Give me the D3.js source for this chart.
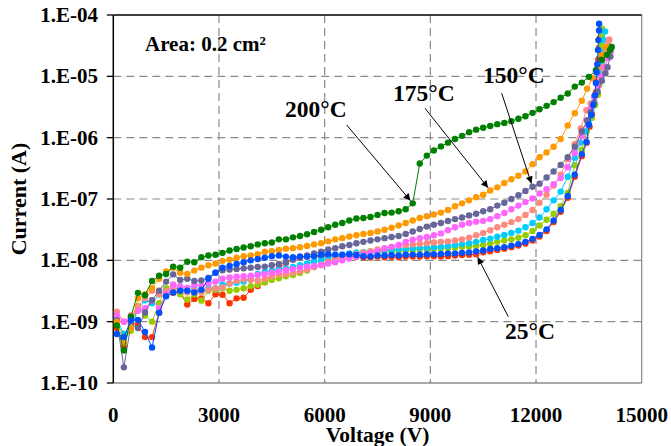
<!DOCTYPE html>
<html>
<head>
<meta charset="utf-8">
<title>Leakage current vs voltage</title>
<style>
  body { margin: 0; background: #fff; }
  svg { display: block; font-family: "Liberation Serif", "Times New Roman", serif; font-weight: bold; }
</style>
</head>
<body>
<svg class="canvas"></svg>
<script src="https://cdn.jsdelivr.net/npm/d3@7"></script>
<script>
// ---------- data ----------
// common voltage grid (V) for the main part of each sweep
const volts = [100, 300, 500, 700, 900, 1100, 1300, 1500, 1700, 1900, 2100, 2300, 2500, 2700, 2900,
  3100, 3300, 3500, 3700, 3900, 4100, 4300, 4500, 4700, 4900, 5100, 5300, 5500, 5700, 5900,
  6100, 6300, 6500, 6700, 6900, 7100, 7300, 7500, 7700, 7900, 8100, 8300, 8500, 8700, 8900,
  9100, 9300, 9500, 9700, 9900, 10100, 10300, 10500, 10700, 10900, 11100, 11300, 11500, 11700, 11900,
  12100, 12300, 12500, 12700, 12900, 13100];

// currents (A) on that grid, one array per curve
const redI = [7.9e-10, 3.9e-10, 1.0e-9, 8.9e-10, 5.6e-10, 5.6e-10, 1.4e-9, 3.0e-9, 2.95e-9, 2.9e-9, 1.9e-9, 2.35e-9, 2.4e-9, 2.0e-9, 2.8e-9,
  2.75e-9, 2.0e-9, 2.4e-9, 2.45e-9, 3.3e-9, 3.8e-9, 4.4e-9, 5.6e-9, 7.4e-9, 9.1e-9, 1.07e-8, 1.12e-8, 1.15e-8, 1.17e-8, 1.16e-8,
  1.2e-8, 1.17e-8, 1.15e-8, 1.17e-8, 1.14e-8, 1.12e-8, 1.11e-8, 1.15e-8, 1.12e-8, 1.14e-8, 1.12e-8, 1.15e-8, 1.16e-8, 1.15e-8, 1.17e-8,
  1.17e-8, 1.16e-8, 1.17e-8, 1.2e-8, 1.22e-8, 1.23e-8, 1.26e-8, 1.35e-8, 1.41e-8, 1.48e-8, 1.55e-8, 1.64e-8, 1.74e-8, 1.88e-8, 2.1e-8,
  2.45e-8, 3.0e-8, 4.2e-8, 6.2e-8, 1.05e-7, 2.3e-7];
const blueI = [6.3e-10, 5.6e-10, 1.05e-9, 1.07e-9, 6.8e-10, 3.8e-10, 1.4e-9, 2.6e-9, 3.0e-9, 3.2e-9, 3.2e-9, 3.0e-9, 3.3e-9, 5.0e-9, 6.3e-9,
  7.6e-9, 8.1e-9, 8.7e-9, 9.3e-9, 1.0e-8, 1.05e-8, 1.1e-8, 1.17e-8, 1.2e-8, 1.15e-8, 1.12e-8, 1.16e-8, 1.15e-8, 1.17e-8, 1.23e-8,
  1.26e-8, 1.24e-8, 1.23e-8, 1.26e-8, 1.22e-8, 1.17e-8, 1.16e-8, 1.2e-8, 1.2e-8, 1.22e-8, 1.2e-8, 1.23e-8, 1.24e-8, 1.23e-8, 1.26e-8,
  1.26e-8, 1.27e-8, 1.29e-8, 1.3e-8, 1.32e-8, 1.35e-8, 1.4e-8, 1.45e-8, 1.53e-8, 1.58e-8, 1.64e-8, 1.74e-8, 1.84e-8, 2.0e-8, 2.24e-8,
  2.6e-8, 3.2e-8, 4.47e-8, 6.6e-8, 1.12e-7, 2.5e-7];
const limeI = [8.9e-10, 6.3e-10, 7.1e-10, 1.78e-9, 1.26e-9, 1.0e-9, 2.0e-9, 3.5e-9, 4.0e-9, 2.8e-9, 2.3e-9, 2.8e-9, 2.2e-9, 3.2e-9, 3.3e-9,
  3.5e-9, 3.2e-9, 3.3e-9, 3.5e-9, 3.8e-9, 4.0e-9, 4.4e-9, 4.8e-9, 5.1e-9, 5.5e-9, 5.75e-9, 6.2e-9, 6.8e-9, 7.8e-9, 8.7e-9,
  9.8e-9, 1.07e-8, 1.17e-8, 1.26e-8, 1.32e-8, 1.35e-8, 1.38e-8, 1.38e-8, 1.4e-8, 1.41e-8, 1.43e-8, 1.45e-8, 1.48e-8, 1.51e-8, 1.55e-8,
  1.57e-8, 1.58e-8, 1.6e-8, 1.62e-8, 1.66e-8, 1.68e-8, 1.72e-8, 1.78e-8, 1.86e-8, 2.0e-8, 2.1e-8, 2.2e-8, 2.34e-8, 2.57e-8, 3.0e-8,
  3.7e-8, 4.6e-8, 5.75e-8, 7.6e-8, 1.26e-7, 3.55e-7];
const cyanI = [1.12e-9, 6.3e-10, 7.9e-10, 1.58e-9, 2.24e-9, 2.0e-9, 2.8e-9, 3.2e-9, 3.5e-9, 3.6e-9, 3.2e-9, 3.4e-9, 3.2e-9, 3.5e-9, 3.5e-9,
  4.0e-9, 4.2e-9, 4.3e-9, 4.5e-9, 5.0e-9, 6.0e-9, 6.5e-9, 6.8e-9, 7.1e-9, 7.4e-9, 7.8e-9, 8.3e-9, 8.9e-9, 9.5e-9, 1.02e-8,
  1.1e-8, 1.17e-8, 1.23e-8, 1.29e-8, 1.33e-8, 1.36e-8, 1.4e-8, 1.43e-8, 1.46e-8, 1.5e-8, 1.53e-8, 1.55e-8, 1.58e-8, 1.6e-8, 1.62e-8,
  1.64e-8, 1.66e-8, 1.72e-8, 1.78e-8, 1.84e-8, 1.9e-8, 2.0e-8, 2.14e-8, 2.26e-8, 2.43e-8, 2.6e-8, 2.8e-8, 3.05e-8, 3.47e-8, 4.07e-8,
  5.0e-8, 6.8e-8, 9.5e-8, 1.32e-7, 2.3e-7, 4.7e-7];
const salmonI = [1.45e-9, 1.0e-9, 1.26e-9, 1.78e-9, 2.4e-9, 3.2e-9, 2.8e-9, 3.2e-9, 3.5e-9, 3.3e-9, 3.0e-9, 3.2e-9, 3.0e-9, 3.3e-9, 3.5e-9,
  3.6e-9, 4.2e-9, 4.6e-9, 4.9e-9, 4.8e-9, 4.7e-9, 5.0e-9, 5.5e-9, 5.9e-9, 6.0e-9, 6.3e-9, 6.6e-9, 7.1e-9, 7.8e-9, 8.3e-9,
  9.5e-9, 1.05e-8, 1.12e-8, 1.2e-8, 1.26e-8, 1.35e-8, 1.41e-8, 1.51e-8, 1.58e-8, 1.66e-8, 1.74e-8, 1.78e-8, 1.82e-8, 1.86e-8, 1.9e-8,
  1.95e-8, 2.0e-8, 2.04e-8, 2.1e-8, 2.2e-8, 2.34e-8, 2.57e-8, 2.8e-8, 3.1e-8, 3.47e-8, 3.8e-8, 4.2e-8, 4.7e-8, 5.5e-8, 6.6e-8,
  8.7e-8, 1.17e-7, 1.66e-7, 2.5e-7, 4.47e-7, 7.9e-7];
const magentaI = [1.26e-9, 1.0e-9, 1.12e-9, 1.51e-9, 1.66e-9, 2.24e-9, 1.66e-9, 2.8e-9, 4.0e-9, 3.8e-9, 3.55e-9, 4.0e-9, 3.8e-9, 4.2e-9, 4.5e-9,
  5.0e-9, 5.25e-9, 5.4e-9, 5.5e-9, 5.6e-9, 5.75e-9, 6.0e-9, 6.3e-9, 6.6e-9, 6.9e-9, 7.2e-9, 7.6e-9, 7.9e-9, 8.1e-9, 8.5e-9,
  8.9e-9, 9.3e-9, 1.0e-8, 1.07e-8, 1.15e-8, 1.23e-8, 1.32e-8, 1.41e-8, 1.55e-8, 1.66e-8, 1.78e-8, 2.0e-8, 2.16e-8, 2.3e-8, 2.4e-8,
  2.57e-8, 2.75e-8, 3.1e-8, 3.47e-8, 3.8e-8, 4.07e-8, 4.27e-8, 4.4e-8, 4.7e-8, 5.25e-8, 5.9e-8, 6.8e-8, 7.8e-8, 8.9e-8, 1.02e-7,
  1.23e-7, 1.45e-7, 1.74e-7, 2.2e-7, 3.3e-7, 5.6e-7];
const slateI = [1.05e-9, 1.8e-10, 8.9e-10, 7.9e-10, 1.41e-9, 2.24e-9, 3.2e-9, 4.5e-9, 5.9e-9, 4.8e-9, 5.0e-9, 4.6e-9, 4.7e-9, 5.2e-9, 6.3e-9,
  6.9e-9, 7.1e-9, 7.2e-9, 7.4e-9, 7.6e-9, 7.8e-9, 7.9e-9, 8.3e-9, 8.7e-9, 9.3e-9, 1.02e-8, 1.12e-8, 1.2e-8, 1.29e-8, 1.38e-8,
  1.51e-8, 1.58e-8, 1.7e-8, 1.78e-8, 1.9e-8, 2.0e-8, 2.1e-8, 2.2e-8, 2.3e-8, 2.4e-8, 2.5e-8, 2.7e-8, 2.95e-8, 3.24e-8, 3.55e-8,
  3.8e-8, 4.07e-8, 4.37e-8, 4.7e-8, 5.0e-8, 5.4e-8, 5.75e-8, 6.3e-8, 6.8e-8, 7.8e-8, 8.7e-8, 1.0e-7, 1.15e-7, 1.35e-7, 1.58e-7,
  1.78e-7, 2.24e-7, 2.8e-7, 3.6e-7, 4.8e-7, 7.1e-7];
const orangeI = [1.0e-9, 4.5e-10, 7.9e-10, 2.4e-9, 2.8e-9, 3.5e-9, 5.0e-9, 6.6e-9, 7.6e-9, 6.3e-9, 6.0e-9, 6.8e-9, 7.6e-9, 8.3e-9, 8.9e-9,
  9.8e-9, 1.02e-8, 1.1e-8, 1.17e-8, 1.2e-8, 1.26e-8, 1.38e-8, 1.41e-8, 1.48e-8, 1.55e-8, 1.58e-8, 1.64e-8, 1.72e-8, 1.82e-8, 1.9e-8,
  2.04e-8, 2.2e-8, 2.3e-8, 2.45e-8, 2.57e-8, 2.7e-8, 2.8e-8, 2.95e-8, 3.16e-8, 3.4e-8, 3.7e-8, 4.07e-8, 4.47e-8, 4.9e-8, 5.25e-8,
  5.6e-8, 6.0e-8, 6.6e-8, 7.6e-8, 8.5e-8, 9.5e-8, 1.07e-7, 1.17e-7, 1.38e-7, 1.55e-7, 1.82e-7, 2.1e-7, 2.4e-7, 2.8e-7, 3.7e-7,
  4.8e-7, 5.75e-7, 7.1e-7, 9.5e-7, 1.58e-6, 2.5e-6];
const greenI = [8.7e-10, 3.4e-10, 1.2e-9, 2.95e-9, 2.7e-9, 4.6e-9, 5.6e-9, 6.0e-9, 7.9e-9, 7.6e-9, 9.5e-9, 9.3e-9, 1.12e-8, 1.2e-8, 1.23e-8,
  1.32e-8, 1.45e-8, 1.53e-8, 1.62e-8, 1.7e-8, 1.82e-8, 1.9e-8, 1.95e-8, 2.2e-8, 2.2e-8, 2.37e-8, 2.5e-8, 2.66e-8, 2.9e-8, 3.16e-8,
  3.47e-8, 3.8e-8, 4.07e-8, 4.47e-8, 4.8e-8, 4.9e-8, 5.1e-8, 5.5e-8, 5.9e-8, 6.0e-8, 6.3e-8, 6.8e-8, 8.5e-8, 3.8e-7, 5.1e-7,
  6.2e-7, 7.2e-7, 8.3e-7, 9.5e-7, 1.07e-6, 1.23e-6, 1.35e-6, 1.45e-6, 1.55e-6, 1.66e-6, 1.74e-6, 1.86e-6, 2.04e-6, 2.24e-6, 2.54e-6,
  2.9e-6, 3.3e-6, 3.8e-6, 4.47e-6, 5.25e-6, 6.8e-6];

// breakdown tails (V, A) beyond the common grid
const redTailV = [13300, 13440, 13520, 13590, 13650, 13700, 13730, 13750, 13770, 13790, 13810];
const redTailI = [5.0e-7, 8.3e-7, 1.51e-6, 2.4e-6, 3.6e-6, 5.5e-6, 8.3e-6, 1.26e-5, 1.9e-5, 2.9e-5, 4.2e-5];
const blueTailV = [13300, 13430, 13500, 13570, 13620, 13670, 13700, 13720, 13740, 13760, 13770, 13790, 13790];
const blueTailI = [5.4e-7, 8.5e-7, 1.62e-6, 2.34e-6, 3.4e-6, 4.9e-6, 7.8e-6, 1.17e-5, 1.58e-5, 2.7e-5, 3.9e-5, 5.6e-5, 7.2e-5];
const limeTailV = [13300, 13440, 13580, 13680, 13760, 13800, 13820, 13840, 13850, 13850, 13860, 13870];
const limeTailI = [6.3e-7, 1.26e-6, 2.1e-6, 3.4e-6, 5.0e-6, 7.2e-6, 1.05e-5, 1.51e-5, 2.24e-5, 3.2e-5, 4.5e-5, 6.0e-5];
const cyanTailV = [13250, 13400, 13490, 13570, 13650, 13750, 13800, 13880, 13900, 13930, 13960];
const cyanTailI = [8.3e-7, 1.26e-6, 1.82e-6, 2.8e-6, 4.7e-6, 7.8e-6, 1.12e-5, 1.74e-5, 2.5e-5, 3.9e-5, 5.4e-5];
const salmonTailV = [13270, 13430, 13550, 13650, 13800, 13900, 13950, 14000, 14050, 14080];
const salmonTailI = [1.41e-6, 2.8e-6, 3.6e-6, 4.7e-6, 8.7e-6, 1.41e-5, 2.0e-5, 2.5e-5, 3.55e-5, 4.0e-5];
const magentaTailV = [13300, 13450, 13560, 13660, 13760, 13860, 13960, 14050, 14130];
const magentaTailI = [1.05e-6, 1.9e-6, 3.0e-6, 4.6e-6, 6.9e-6, 1.0e-5, 1.41e-5, 2.0e-5, 2.6e-5];
const slateTailV = [13300, 13450, 13550, 13650, 13750, 13870, 13970, 14030, 14110];
const slateTailI = [1.26e-6, 1.9e-6, 2.6e-6, 3.7e-6, 5.6e-6, 8.5e-6, 1.12e-5, 1.41e-5, 2.1e-5];
const orangeTailV = [13300, 13450, 13600, 13750, 13870, 13980];
const orangeTailI = [4.0e-6, 6.3e-6, 9.3e-6, 1.41e-5, 2.24e-5, 3.0e-5];
const greenTailV = [13300, 13500, 13700, 13865, 14010, 14100, 14150];
const greenTailI = [7.9e-6, 9.8e-6, 1.26e-5, 1.86e-5, 2.24e-5, 2.7e-5, 3.0e-5];

// axes
const xTicks = [0, 3000, 6000, 9000, 12000, 15000];
const yTicks = [1e-10, 1e-9, 1e-8, 1e-7, 1e-6, 1e-5, 1e-4];

// annotations: label, the curve it points at, grid index on that curve
const tempLabels = ["200°C", "175°C", "150°C", "25°C"];
const tempCurves = ["green", "orange", "slate", "red"];
const tempIndex = [42, 53, 59, 51];

// ---------- chart ----------
const width = 671, height = 446;
const plot = { left: 113.3, right: 641.7, top: 15, bottom: 383 };

const series = [
  { name: "red", color: "#ff3300", amps: redI, tailV: redTailV, tailI: redTailI },
  { name: "lime", color: "#99cc00", amps: limeI, tailV: limeTailV, tailI: limeTailI },
  { name: "cyan", color: "#00ccff", amps: cyanI, tailV: cyanTailV, tailI: cyanTailI },
  { name: "salmon", color: "#ff8a80", amps: salmonI, tailV: salmonTailV, tailI: salmonTailI },
  { name: "magenta", color: "#ff66ff", amps: magentaI, tailV: magentaTailV, tailI: magentaTailI },
  { name: "slate", color: "#666699", amps: slateI, tailV: slateTailV, tailI: slateTailI },
  { name: "orange", color: "#ff9900", amps: orangeI, tailV: orangeTailV, tailI: orangeTailI },
  { name: "green", color: "#008000", amps: greenI, tailV: greenTailV, tailI: greenTailI },
  { name: "blue", color: "#0050ff", amps: blueI, tailV: blueTailV, tailI: blueTailI }
].map((s) => ({
  ...s,
  points: volts.map((v, i) => [v, s.amps[i]]).concat(s.tailV.map((v, i) => [v, s.tailI[i]]))
}));

const x = d3.scaleLinear().domain([0, 15000]).range([plot.left, plot.right]);
const y = d3.scaleLog().domain([1e-10, 1e-4]).range([plot.bottom, plot.top]);

const svg = d3.select(".canvas").attr("width", width).attr("height", height);

svg.append("defs").append("marker")
  .attr("id", "arrow")
  .attr("viewBox", "0 0 10 10")
  .attr("refX", 10).attr("refY", 5)
  .attr("markerWidth", 9).attr("markerHeight", 7)
  .attr("markerUnits", "userSpaceOnUse")
  .attr("orient", "auto")
  .append("path").attr("d", "M0,0 L10,5 L0,10 z").attr("fill", "#000");

//---------------grid----------------
const dash = "8,5";
svg.append("g").selectAll("line")
  .data(yTicks.slice(1, -1))
  .join("line")
  .attr("x1", plot.left).attr("x2", plot.right)
  .attr("y1", (d) => y(d)).attr("y2", (d) => y(d))
  .attr("stroke", "#8a8a8a").attr("stroke-width", 1.2).attr("stroke-dasharray", dash);

svg.append("g").selectAll("line")
  .data(xTicks.slice(1, -1))
  .join("line")
  .attr("x1", (d) => x(d)).attr("x2", (d) => x(d))
  .attr("y1", plot.top).attr("y2", plot.bottom)
  .attr("stroke", "#8a8a8a").attr("stroke-width", 1.2).attr("stroke-dasharray", dash);

//---------------frame----------------
svg.append("line").attr("x1", plot.right).attr("x2", plot.right)
  .attr("y1", plot.top).attr("y2", plot.bottom).attr("stroke", "#8a8a8a").attr("stroke-width", 1.2);
svg.append("line").attr("x1", plot.left).attr("x2", plot.right)
  .attr("y1", plot.bottom).attr("y2", plot.bottom).attr("stroke", "#555").attr("stroke-width", 1.2);
svg.append("line").attr("x1", plot.left).attr("x2", plot.right)
  .attr("y1", plot.top).attr("y2", plot.top).attr("stroke", "#000").attr("stroke-width", 1.3);

//---------------y axis----------------
const yAxis = svg.append("g");
yAxis.append("line").attr("x1", plot.left).attr("x2", plot.left)
  .attr("y1", plot.top).attr("y2", plot.bottom).attr("stroke", "#000").attr("stroke-width", 1.5);
yAxis.selectAll(".tick")
  .data(yTicks)
  .join("line")
  .attr("x1", plot.left - 6.5).attr("x2", plot.left)
  .attr("y1", (d) => y(d)).attr("y2", (d) => y(d))
  .attr("stroke", "#000").attr("stroke-width", 1.3);

const expLabel = (d) => {
  const e = Math.round(Math.log10(d));
  return "1.E" + (e < 0 ? "-" : "+") + String(Math.abs(e)).padStart(2, "0");
};
yAxis.selectAll("text")
  .data(yTicks)
  .join("text")
  .attr("x", 98).attr("y", (d) => y(d) + 7)
  .attr("text-anchor", "end")
  .attr("font-size", 21)
  .text(expLabel);

svg.append("text")
  .attr("transform", `translate(26,${(plot.top + plot.bottom) / 2}) rotate(-90)`)
  .attr("text-anchor", "middle")
  .attr("font-size", 22)
  .text("Current (A)");

//---------------x axis----------------
svg.append("g").selectAll("text")
  .data(xTicks)
  .join("text")
  .attr("x", (d) => x(d)).attr("y", 422)
  .attr("text-anchor", "middle")
  .attr("font-size", 21)
  .text((d) => d);

svg.append("text")
  .attr("x", (plot.left + plot.right) / 2).attr("y", 442)
  .attr("text-anchor", "middle")
  .attr("font-size", 21.5)
  .text("Voltage (V)");

//---------------curves----------------
const line = d3.line().x((d) => x(d[0])).y((d) => y(d[1]));

const curves = svg.append("g").selectAll("g")
  .data(series)
  .join("g");

curves.append("path")
  .attr("d", (s) => line(s.points))
  .attr("fill", "none")
  .attr("stroke", (s) => s.color)
  .attr("stroke-width", 1);

curves.selectAll("circle")
  .data((s) => s.points.map((p) => ({ p, color: s.color })))
  .join("circle")
  .attr("cx", (d) => x(d.p[0]))
  .attr("cy", (d) => y(d.p[1]))
  .attr("r", 3.2)
  .attr("fill", (d) => d.color);

//---------------labels----------------
svg.append("text")
  .attr("x", 145).attr("y", 51)
  .attr("font-size", 21)
  .text("Area: 0.2 cm²");

// label anchor (start x, baseline) and arrow start, in pixels
const labelPos = [[285, 116.7], [393, 101], [483, 83.3], [505, 339.3]];
const arrowFrom = [[346.7, 125], [425, 108.3], [501.7, 93.3], [508.3, 316.7]];

tempLabels.forEach((t, i) => {
  const s = series.find((d) => d.name === tempCurves[i]);
  const p = s.points[tempIndex[i]];
  const tx = x(p[0]), ty = y(p[1]);
  const [fx, fy] = arrowFrom[i];
  const len = Math.hypot(tx - fx, ty - fy);
  const gap = 3.5;
  svg.append("line")
    .attr("x1", fx).attr("y1", fy)
    .attr("x2", tx - ((tx - fx) / len) * gap)
    .attr("y2", ty - ((ty - fy) / len) * gap)
    .attr("stroke", "#000").attr("stroke-width", 1)
    .attr("marker-end", "url(#arrow)");
  svg.append("text")
    .attr("x", labelPos[i][0]).attr("y", labelPos[i][1])
    .attr("font-size", 23.5)
    .text(t);
});
</script>
</body>
</html>
